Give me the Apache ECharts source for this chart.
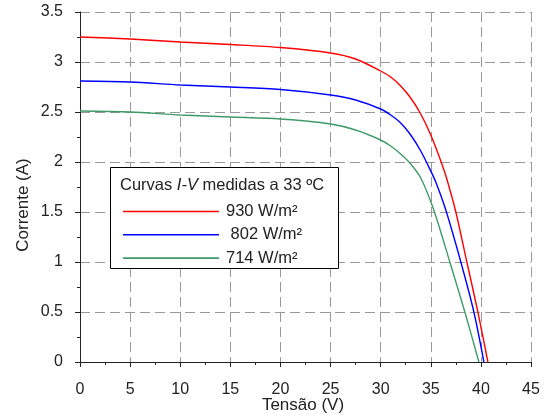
<!DOCTYPE html>
<html>
<head>
<meta charset="utf-8">
<script src="https://cdn.jsdelivr.net/npm/echarts@6/dist/echarts.min.js"></script>
<style>
html,body{margin:0;padding:0;background:#fff;}
#c{width:554px;height:416px;}
</style>
</head>
<body>
<div id="c"></div>
<script>
// Data (Tensão V, Corrente A)
const seriesNames = ['930 W/m²', ' 802 W/m²', '714 W/m²'];
const curve930 = [[0,3.25],[5,3.23],[10,3.20],[15,3.175],[20,3.145],[25,3.09],[27.5,3.03],[30,2.91],[31,2.85],[32,2.76],[33,2.64],[34,2.48],[35,2.27],[36,2.01],[36.6,1.83],[37.5,1.5],[38.6,1.0],[39.7,0.5],[40.7,0]];
const curve802 = [[0,2.81],[5,2.80],[10,2.77],[15,2.75],[20,2.725],[25,2.67],[27.5,2.62],[30,2.53],[31,2.47],[32,2.39],[33,2.27],[34,2.11],[35,1.91],[35.5,1.80],[36.5,1.52],[38,1.0],[39.3,0.5],[40.3,0]];
const curve714 = [[0,2.51],[5,2.50],[10,2.47],[15,2.45],[20,2.43],[25,2.38],[27.5,2.32],[30,2.22],[31,2.16],[32,2.08],[33,1.98],[34,1.84],[35.3,1.52],[36.9,1.0],[38.4,0.5],[39.8,0]];
const xTicks = {min:0, max:45, interval:5};
const yTicks = {min:0, max:3.5, interval:0.5};
const xName = 'Tensão (V)';
const yName = 'Corrente (A)';

const colors = ['#ff0000', '#0000ff', '#3f9a68'];
const FONT = 'Liberation Sans, Arial, sans-serif';
const chart = echarts.init(document.getElementById('c'), null, {renderer:'canvas'});
const axisCommon = {
  axisLine:{show:true, lineStyle:{color:'#222', width:1}},
  axisTick:{show:true, inside:false, length:5, lineStyle:{color:'#222'}},
  minorTick:{show:true, splitNumber:2, length:3, lineStyle:{color:'#222'}},
  splitLine:{show:true, lineStyle:{color:'#999', type:[10,5], width:1}}
};
chart.setOption({
  animation:false,
  backgroundColor:'#fff',
  grid:{left:80, top:12, right:23, bottom:54, containLabel:false, outerBoundsMode:'none'},
  xAxis:Object.assign({type:'value', min:xTicks.min, max:xTicks.max, interval:xTicks.interval}, axisCommon,
    {axisLabel:{color:'#222', fontSize:16, fontFamily:FONT, margin:20}}),
  yAxis:Object.assign({type:'value', min:yTicks.min, max:yTicks.max, interval:yTicks.interval}, axisCommon,
    {axisLabel:{color:'#222', fontSize:16, fontFamily:FONT, margin:17}}),
  legend:{
    orient:'vertical', left:118, top:198, z:60,
    itemWidth:96, itemHeight:1.6, itemGap:6.3,
    icon:'rect',
    textStyle:{color:'#222', fontSize:16.5, fontFamily:FONT, padding:[0,0,0,2]},
    data:seriesNames.map((n,i)=>({name:n, icon:'rect', itemStyle:{color:colors[i], borderWidth:0}}))
  },
  graphic:[
    {type:'rect', z:50, shape:{x:110.5, y:167.5, width:228, height:101},
      style:{fill:'#fff', stroke:'#000', lineWidth:1}},
    {type:'text', z:51, left:120, top:177,
      style:{text:'{n|Curvas }{i|I-V}{n| medidas a 33 ºC}',
        rich:{n:{fontSize:16.5, fontFamily:FONT, fill:'#222'}, i:{fontSize:16.5, fontFamily:FONT, fontStyle:'italic', fill:'#222'}}}},
    {type:'text', z:51, x:23, y:205, rotation:Math.PI/2,
      style:{text:yName, fontSize:17, fontFamily:FONT, fill:'#222', align:'center', verticalAlign:'middle'}},
    {type:'text', z:51, x:303, y:405,
      style:{text:xName, fontSize:17, fontFamily:FONT, fill:'#222', align:'center', verticalAlign:'middle'}}
  ],
  series:[
    {name:seriesNames[0], type:'line', data:curve930, smooth:0.3, symbol:'none', lineStyle:{color:colors[0], width:1.4}, itemStyle:{color:colors[0]}},
    {name:seriesNames[1], type:'line', data:curve802, smooth:0.3, symbol:'none', lineStyle:{color:colors[1], width:1.4}, itemStyle:{color:colors[1]}},
    {name:seriesNames[2], type:'line', data:curve714, smooth:0.3, symbol:'none', lineStyle:{color:colors[2], width:1.4}, itemStyle:{color:colors[2]}}
  ]
});
</script>
</body>
</html>
